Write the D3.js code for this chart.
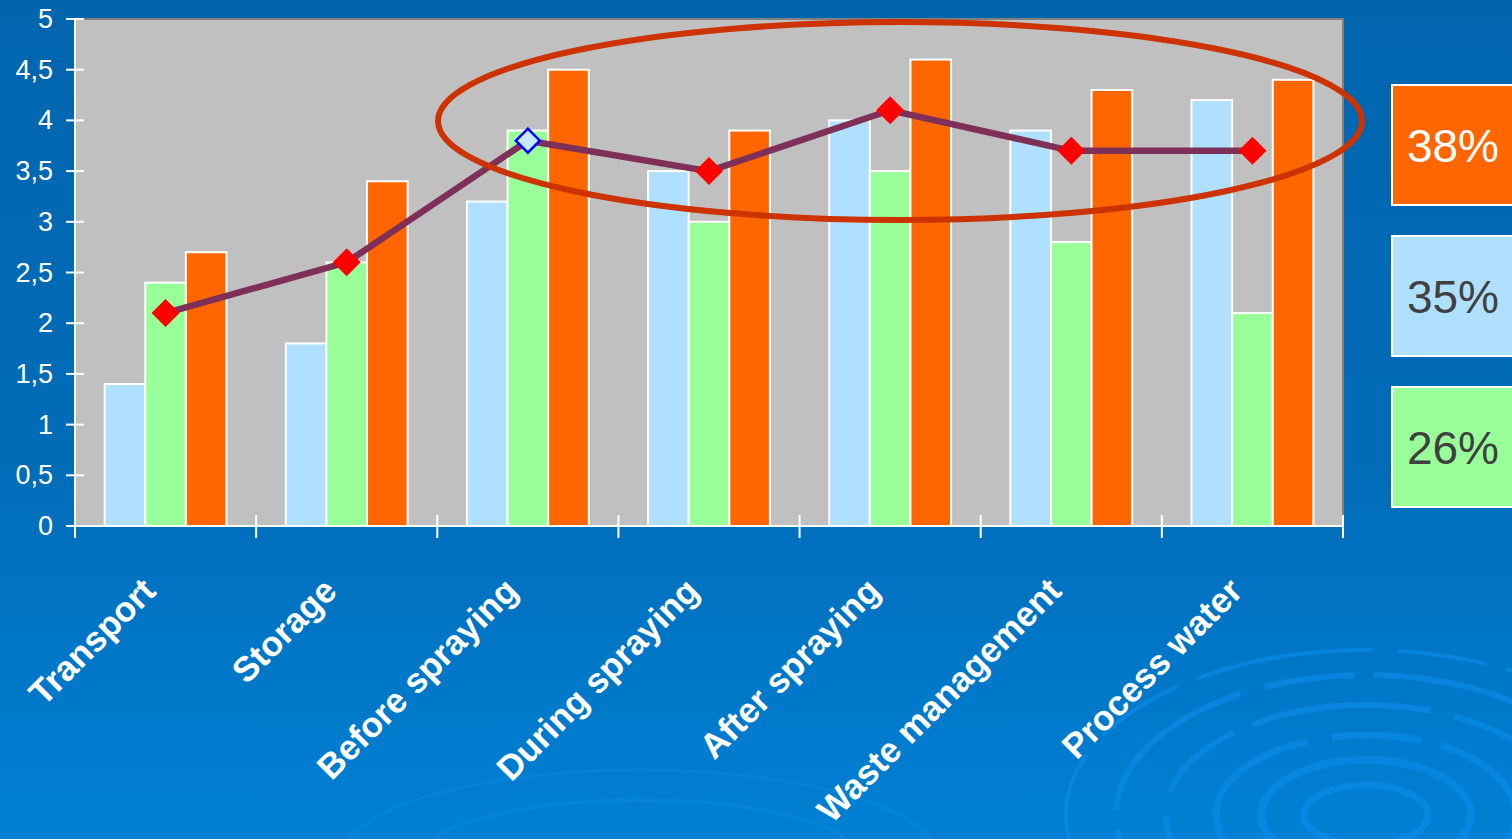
<!DOCTYPE html>
<html><head><meta charset="utf-8">
<script src="https://cdn.jsdelivr.net/npm/d3@7"></script>
<style>html,body{margin:0;padding:0;overflow:hidden;}svg{display:block;}</style>
</head><body>
<svg id="chart" width="1512" height="839"></svg>
<script>
const categories = ["Transport","Storage","Before spraying","During spraying","After spraying","Waste management","Process water"];
const blueValues = [1.4, 1.8, 3.2, 3.5, 4.0, 3.9, 4.2];
const greenValues = [2.4, 2.6, 3.9, 3.0, 3.5, 2.8, 2.1];
const orangeValues = [2.7, 3.4, 4.5, 3.9, 4.6, 4.3, 4.4];
const lineValues = [2.1, 2.6, 3.8, 3.5, 4.1, 3.7, 3.7];
const yTicks = [0,0.5,1,1.5,2,2.5,3,3.5,4,4.5,5];
const legendLabels = ["38%","35%","26%"];

const svg = d3.select("#chart");
const W = 1512, H = 839;
const font = "'Liberation Sans', Arial, sans-serif";

// background
const defs = svg.append("defs");
const bg = defs.append("linearGradient").attr("id","bg").attr("x1",0).attr("y1",0).attr("x2",0).attr("y2",1);
bg.append("stop").attr("offset","0%").attr("stop-color","#0065ad");
bg.append("stop").attr("offset","55%").attr("stop-color","#006cb8");
bg.append("stop").attr("offset","100%").attr("stop-color","#0080d4");
svg.append("rect").attr("width",W).attr("height",H).attr("fill","url(#bg)");

// ripple decoration
const rip = svg.append("g").attr("fill","none").attr("stroke","#0a8ae6").attr("opacity",0.75);
[[62,30,7],[105,55,8],[150,80,7],[200,110,6],[250,140,6],[300,165,4]].forEach(([rx,ry,sw])=>{
  rip.append("ellipse").attr("cx",1366).attr("cy",815).attr("rx",rx).attr("ry",ry).attr("stroke-width",sw)
    .attr("stroke-dasharray", rx>120 ? "180 25 90 20" : null);
});
const rip2 = svg.append("g").attr("fill","none").attr("stroke","#0a88e0").attr("opacity",0.5);
[[220,60,4],[300,90,3]].forEach(([rx,ry,sw])=>{
  rip2.append("ellipse").attr("cx",640).attr("cy",860).attr("rx",rx).attr("ry",ry).attr("stroke-width",sw);
});

const m = {left:75, right:1343, top:19, bottom:526};
const x = d3.scaleBand().domain(categories).range([m.left,m.right]).paddingInner(0).paddingOuter(0);
const y = d3.scaleLinear().domain([0,5]).range([m.bottom,m.top]);
const series = ["blue","green","orange"];
const xs = d3.scaleBand().domain(series).range([0,x.bandwidth()]).paddingInner(0).paddingOuter(0.73);
const colors = {blue:"#b0e0ff", green:"#99ff99", orange:"#ff6600"};
const vals = {blue:blueValues, green:greenValues, orange:orangeValues};

// plot area
svg.append("rect").attr("x",m.left).attr("y",m.top).attr("width",m.right-m.left).attr("height",m.bottom-m.top).attr("fill","#c0c0c0");
svg.append("path").attr("d",`M${m.left},${m.top}H${m.right}V${m.bottom}`).attr("fill","none").attr("stroke","#808080").attr("stroke-width",2);

// bars
series.forEach(s=>{
  svg.append("g").selectAll("rect").data(categories).join("rect")
    .attr("x",(c)=>x(c)+xs(s))
    .attr("y",(c,i)=>y(vals[s][i]))
    .attr("width",xs.bandwidth())
    .attr("height",(c,i)=>y(0)-y(vals[s][i]))
    .attr("fill",colors[s]).attr("stroke","#ffffff").attr("stroke-width",2);
});

// axes
const ax = svg.append("g").attr("stroke","#ffffff").attr("stroke-width",2);
ax.append("line").attr("x1",m.left).attr("x2",m.left).attr("y1",m.top).attr("y2",m.bottom+12);
ax.append("line").attr("x1",m.left).attr("x2",m.right).attr("y1",m.bottom).attr("y2",m.bottom);
yTicks.forEach(t=>{
  ax.append("line").attr("x1",m.left-9).attr("x2",t===0?m.left:m.left+9).attr("y1",y(t)).attr("y2",y(t));
});
const xTickPos = categories.map(c=>x(c)).concat([m.right]);
xTickPos.forEach(p=>{
  ax.append("line").attr("x1",p).attr("x2",p).attr("y1",p===m.left?m.bottom:m.bottom-11).attr("y2",m.bottom+12);
});

svg.append("g").selectAll("text").data(yTicks).join("text")
  .attr("x",m.left-22).attr("y",t=>y(t)+9)
  .attr("text-anchor","end").attr("fill","#ffffff")
  .attr("font-family",font).attr("font-size",27)
  .text(t=>String(t).replace(".",","));

svg.append("g").selectAll("text").data(categories).join("text")
  .attr("transform",c=>`translate(${x(c)+x.bandwidth()/2-8},${593}) rotate(-45)`)
  .attr("text-anchor","end").attr("fill","#ffffff")
  .attr("font-family",font).attr("font-size",35).attr("font-weight","bold")
  .text(c=>c);

// line
const cx = c=>x(c)+x.bandwidth()/2;
svg.append("path").datum(lineValues)
  .attr("d",d3.line().x((d,i)=>cx(categories[i])).y(d=>y(d)))
  .attr("fill","none").attr("stroke","#7f3058").attr("stroke-width",6.5);
svg.append("g").selectAll("path").data(lineValues).join("path")
  .attr("transform",(d,i)=>`translate(${cx(categories[i])},${y(d)})`)
  .attr("d",(d,i)=>{const r = i===2?12:14; return `M0,${-r}L${r},0L0,${r}L${-r},0Z`;})
  .attr("fill",(d,i)=>i===2?"#c8e8ff":"#ff0000")
  .attr("stroke",(d,i)=>i===2?"#0000ff":"none").attr("stroke-width",2.5);

// ellipse annotation
svg.append("ellipse").attr("cx",900).attr("cy",121).attr("rx",462).attr("ry",99)
  .attr("fill","none").attr("stroke","#cc3300").attr("stroke-width",6);

// legend boxes
const legColors = ["#ff6600","#b0e0ff","#99ff99"];
const legText = ["#ffffff","#404040","#404040"];
const lg = svg.append("g");
legendLabels.forEach((l,i)=>{
  const top = 85 + i*151;
  lg.append("rect").attr("x",1392).attr("y",top).attr("width",130).attr("height",120)
    .attr("fill",legColors[i]).attr("stroke","#ffffff").attr("stroke-width",2);
  lg.append("text").attr("x",1453).attr("y",top+77).attr("text-anchor","middle")
    .attr("fill",legText[i]).attr("font-family",font).attr("font-size",46).text(l);
});
</script>
</body></html>
